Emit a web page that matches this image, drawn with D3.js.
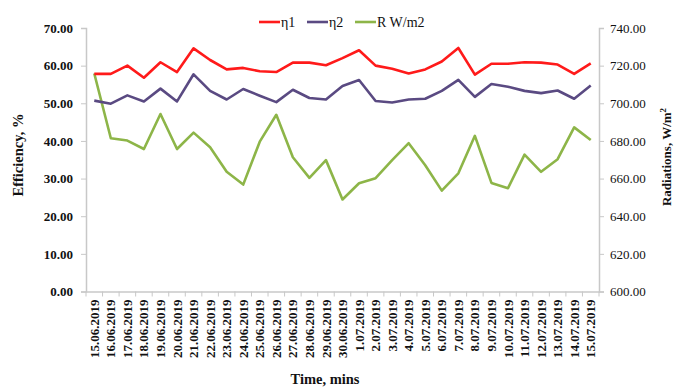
<!DOCTYPE html>
<html>
<head>
<meta charset="utf-8">
<script src="https://cdn.jsdelivr.net/npm/d3@7"></script>
<style>
  body { margin: 0; background: #fff; }
  svg { font-family: "Liberation Serif", "Times New Roman", serif; }
</style>
</head>
<body>
<div id="chart"></div>
<script>
// dates on the x axis
const dates = ["15.06.2019","16.06.2019","17.06.2019","18.06.2019","19.06.2019","20.06.2019",
  "21.06.2019","22.06.2019","23.06.2019","24.06.2019","25.06.2019","26.06.2019","27.06.2019",
  "28.06.2019","29.06.2019","30.06.2019","1.07.2019","2.07.2019","3.07.2019","4.07.2019",
  "5.07.2019","6.07.2019","7.07.2019","8.07.2019","9.07.2019","10.07.2019","11.07.2019",
  "12.07.2019","13.07.2019","14.07.2019","15.07.2019"];

// efficiency, %
const eta1 = [57.8, 57.8, 60.0, 56.8, 60.9, 58.3, 64.6, 61.5, 59.0, 59.4, 58.5, 58.3, 60.8, 60.8, 60.1, 62.0,
  64.1, 60.0, 59.2, 57.9, 59.0, 61.1, 64.7, 57.6, 60.5, 60.5, 60.9, 60.8, 60.3, 57.8, 60.6];
const eta2 = [50.7, 49.9, 52.1, 50.5, 53.9, 50.5, 57.7, 53.3, 51.0, 53.8, 52.0, 50.3, 53.6, 51.4, 51.0, 54.6,
  56.2, 50.6, 50.2, 51.0, 51.2, 53.3, 56.2, 51.7, 55.1, 54.4, 53.3, 52.7, 53.4, 51.2, 54.7];
// radiation, W/m2
const radiation = [715.8, 681.4, 680.2, 675.7, 694.3, 675.7, 684.4, 676.6, 663.6, 656.8, 679.6, 693.9, 671.3,
  660.4, 669.8, 648.9, 657.5, 660.2, 669.8, 678.8, 667.1, 653.6, 662.8, 682.7, 657.7, 654.9, 672.7,
  663.6, 670.3, 687.2, 680.5];

const leftTicks = [0, 10, 20, 30, 40, 50, 60, 70];
const rightTicks = [600, 620, 640, 660, 680, 700, 720, 740];

const width = 682, height = 387;
const margin = {top: 28, right: 83, bottom: 96, left: 86};
const axisColor = "#c8c8c8";

const svg = d3.select("#chart").append("svg")
  .attr("width", width)
  .attr("height", height);

const x = d3.scaleBand()
  .domain(dates)
  .range([margin.left, width - margin.right])
  .padding(0);

const yL = d3.scaleLinear()
  .domain([0, 70])
  .range([height - margin.bottom + 0.5, margin.top]);

const yR = d3.scaleLinear()
  .domain([600, 740])
  .range([height - margin.bottom + 0.5, margin.top]);

const cx = d => x(d) + x.bandwidth() / 2;

// left axis
const gL = svg.append("g")
  .attr("transform", `translate(${margin.left},0)`)
  .call(d3.axisLeft(yL).tickValues(leftTicks).tickFormat(d3.format(".2f")).tickSize(5).tickPadding(8));
gL.select(".domain").attr("stroke", axisColor).attr("stroke-width", 1.5);
gL.selectAll(".tick line").attr("stroke", axisColor);
gL.selectAll(".tick text")
  .style("font-family", "Liberation Serif").style("font-size", "13px")
  .style("font-weight", "bold").attr("fill", "#111");

// right axis
const gR = svg.append("g")
  .attr("transform", `translate(${width - margin.right},0)`)
  .call(d3.axisRight(yR).tickValues(rightTicks).tickFormat(d3.format(".2f")).tickSize(5).tickPadding(6));
gR.select(".domain").attr("stroke", axisColor).attr("stroke-width", 1.5);
gR.selectAll(".tick line").attr("stroke", axisColor);
gR.selectAll(".tick text")
  .style("font-family", "Liberation Serif").style("font-size", "13px")
  .attr("fill", "#111");

// x axis
const gX = svg.append("g")
  .attr("transform", `translate(0,${yL(0)})`)
  .call(d3.axisBottom(x).tickSize(0).tickPadding(0).tickSizeOuter(0));
gX.select(".domain").attr("stroke", axisColor).attr("stroke-width", 1.5);
gX.selectAll(".tick text")
  .style("font-family", "Liberation Serif").style("font-size", "13px")
  .style("font-weight", "bold").attr("fill", "#111")
  .attr("text-anchor", "end")
  .attr("dy", "0.35em")
  .attr("transform", "translate(0,8) rotate(-90)")
  .attr("y", 0).attr("x", 0);

// category boundary ticks
svg.append("g").selectAll("line")
  .data(dates.concat(["_end"]))
  .join("line")
  .attr("x1", (d, i) => i < dates.length ? x(d) : x(dates[dates.length - 1]) + x.bandwidth())
  .attr("x2", (d, i) => i < dates.length ? x(d) : x(dates[dates.length - 1]) + x.bandwidth())
  .attr("y1", yL(0))
  .attr("y2", yL(0) + 5)
  .attr("stroke", axisColor);

// lines
const series = [
  {name: "η1", values: eta1, scale: yL, color: "#ff1a1a"},
  {name: "η2", values: eta2, scale: yL, color: "#5a4a82"},
  {name: "R W/m2", values: radiation, scale: yR, color: "#8db548"}
];

series.slice().reverse().forEach(s => {
  const line = d3.line()
    .x((d, i) => cx(dates[i]))
    .y(d => s.scale(d));
  svg.append("path")
    .datum(s.values)
    .attr("fill", "none")
    .attr("stroke", s.color)
    .attr("stroke-width", 2.6)
    .attr("stroke-linejoin", "round")
    .attr("d", line);
});

// legend
const legendX = [259, 307, 355];
const leg = svg.append("g");
series.forEach((s, i) => {
  leg.append("line")
    .attr("x1", legendX[i]).attr("x2", legendX[i] + 21)
    .attr("y1", 22).attr("y2", 22)
    .attr("stroke", s.color).attr("stroke-width", 2.6);
  leg.append("text")
    .attr("x", legendX[i] + 22).attr("y", 22).attr("dy", "0.35em")
    .style("font-size", "14px").attr("fill", "#111")
    .text(s.name);
});

// axis titles
svg.append("text")
  .attr("transform", "translate(23,155) rotate(-90)")
  .attr("text-anchor", "middle")
  .style("font-size", "14.5px").style("font-weight", "bold").attr("fill", "#111")
  .text("Efficiency, %");

const rt = svg.append("text")
  .attr("transform", "translate(671,157) rotate(-90)")
  .attr("text-anchor", "middle")
  .style("font-size", "13px").style("font-weight", "bold").attr("fill", "#111");
rt.append("tspan").text("Radiations, W/m");
rt.append("tspan").attr("dy", -5).style("font-size", "9px").text("2");

svg.append("text")
  .attr("x", 325).attr("y", 384)
  .attr("text-anchor", "middle")
  .style("font-size", "14.5px").style("font-weight", "bold").attr("fill", "#111")
  .text("Time, mins");
</script>
</body>
</html>
